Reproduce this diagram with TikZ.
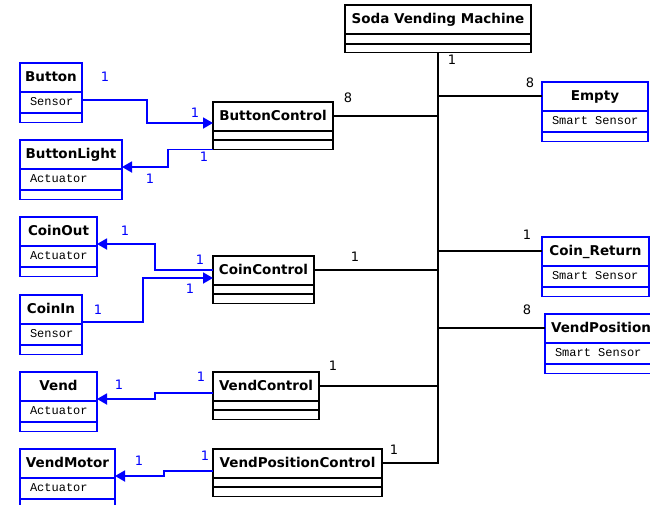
\documentclass[tikz,border=0pt]{standalone}
\usepackage{fontspec}
\setsansfont{DejaVu Sans}
\setmonofont{Liberation Mono}
\usepackage{tikz}
\usetikzlibrary{shapes.multipart, arrows.meta, positioning, calc}
\definecolor{devblue}{RGB}{0, 0, 255}
\newcommand{\cname}[1]{\rule[-9pt]{0pt}{27pt}#1}
\newcommand{\cattr}[1]{\rule[-6pt]{0pt}{19pt}\hspace*{8pt}{\mdseries\ttfamily\fontsize{12}{14}\selectfont #1}}
\newcommand{\cgap}[1]{\rule{0pt}{#1pt}}

\begin{document}
\begin{tikzpicture}[x=1pt, y=-1pt,
        ctrlbox/.style={rectangle split, rectangle split parts=3, draw, line width=1.8pt,
            inner xsep=2pt, inner ysep=0pt, outer sep=0pt, anchor=north west,
            rectangle split part align={center,left,left},
            font=\sffamily\bfseries\fontsize{13.5}{15}\selectfont},
        devbox/.style={ctrlbox, draw=devblue},
        mult/.style={font=\sffamily\fontsize{13}{15}\selectfont, inner sep=0pt},
        bmult/.style={mult, text=devblue},
        link/.style={draw=black, line width=1.8pt},
        signal/.style={draw=devblue, line width=1.8pt, -{Triangle[length=10pt,width=11pt]}}]

    \useasboundingbox (0,0) rectangle (650,504);
    \clip (0,0) rectangle (650,504);

    % Clases de control
    \node [ctrlbox, minimum width=186pt] (machine) at (345,5) {\cname{Soda Vending Machine}\nodepart{two}\cgap{8}\nodepart{three}\cgap{7}};
    \node [ctrlbox, minimum width=120pt] (btnctrl) at (213,102) {\cname{ButtonControl}\nodepart{two}\cgap{7}\nodepart{three}\cgap{8}};
    \node [ctrlbox, minimum width=101pt] (coinctrl) at (213,256) {\cname{CoinControl}\nodepart{two}\cgap{7}\nodepart{three}\cgap{8}};
    \node [ctrlbox, minimum width=106pt] (vendctrl) at (213,372) {\cname{VendControl}\nodepart{two}\cgap{7}\nodepart{three}\cgap{8}};
    \node [ctrlbox, minimum width=169pt] (vposctrl) at (213,449) {\cname{VendPositionControl}\nodepart{two}\cgap{7}\nodepart{three}\cgap{8}};

    % Sensores y actuadores
    \node [devbox, minimum width=62pt] (button) at (20,63) {\cname{Button}\nodepart{two}\cattr{Sensor}\nodepart{three}\cgap{8}};
    \node [devbox, minimum width=102pt] (btnlight) at (20,140) {\cname{ButtonLight}\nodepart{two}\cattr{Actuator}\nodepart{three}\cgap{8}};
    \node [devbox, minimum width=77pt] (coinout) at (20,217) {\cname{CoinOut}\nodepart{two}\cattr{Actuator}\nodepart{three}\cgap{8}};
    \node [devbox, minimum width=62pt] (coinin) at (20,295) {\cname{CoinIn}\nodepart{two}\cattr{Sensor}\nodepart{three}\cgap{8}};
    \node [devbox, minimum width=77pt] (vend) at (20,372) {\cname{Vend}\nodepart{two}\cattr{Actuator}\nodepart{three}\cgap{8}};
    \node [devbox, minimum width=95pt] (vendmotor) at (20,449) {\cname{VendMotor}\nodepart{two}\cattr{Actuator}\nodepart{three}\cgap{8}};
    \node [devbox, minimum width=106pt] (empty) at (542,82) {\cname{Empty}\nodepart{two}\cattr{Smart Sensor}\nodepart{three}\cgap{8}};
    \node [devbox, minimum width=107pt] (coinret) at (542,237) {\cname{Coin\_Return}\nodepart{two}\cattr{Smart Sensor}\nodepart{three}\cgap{8}};
    \node [devbox, minimum width=112pt] (vendpos) at (545,314) {\cname{VendPosition}\nodepart{two}\cattr{Smart Sensor}\nodepart{three}\cgap{8}};

    % Agregacion hacia la maquina
    \path [link] ([yshift=-14pt]btnctrl.north east) -| (machine.south);
    \path [link] ([yshift=-14pt]coinctrl.north east) -| (machine.south);
    \path [link] ([yshift=-14pt]vendctrl.north east) -| (machine.south);
    \path [link] ([yshift=-14pt]vposctrl.north east) -| (machine.south);
    \path [link] ([yshift=-14pt]empty.north west) -| (machine.south);
    \path [link] ([yshift=-14pt]coinret.north west) -| (machine.south);
    \path [link] ([yshift=-14pt]vendpos.north west) -| (machine.south);

    % Senales
    \path [signal] ([yshift=-37pt]button.north east) -- ++(65,0) |- ([yshift=-21pt]btnctrl.north west);
    \path [signal] (btnctrl.south west) -- ++(-45,0) |- ([yshift=-27pt]btnlight.north east);
    \path [signal] ([yshift=-14pt]coinctrl.north west) -- ++(-58,0) |- ([yshift=-27pt]coinout.north east);
    \path [signal] ([yshift=-27pt]coinin.north east) -- ++(61,0) |- ([yshift=-22pt]coinctrl.north west);
    \path [signal] ([yshift=-21pt]vendctrl.north west) -- ++(-58,0) |- ([yshift=-27pt]vend.north east);
    \path [signal] ([yshift=-22pt]vposctrl.north west) -- ++(-49,0) |- ([yshift=-27pt]vendmotor.north east);

    % Multiplicidades
    \node [mult] (m-machine) at (452,60) {1};
    \node [mult] (m-empty) at (530,83) {8};
    \node [mult] (m-btnctrl) at (348,98) {8};
    \node [mult] (m-coinret) at (527,235) {1};
    \node [mult] (m-vendpos) at (527,310) {8};
    \node [mult] (m-coinctrl) at (355,257) {1};
    \node [mult] (m-vendctrl) at (333,366) {1};
    \node [mult] (m-vposctrl) at (394,450) {1};
    \node [bmult] (b-button) at (105,77) {1};
    \node [bmult] (b-btnctrl-in) at (195,113) {1};
    \node [bmult] (b-btnctrl-out) at (204,157) {1};
    \node [bmult] (b-btnlight) at (150,179) {1};
    \node [bmult] (b-coinout) at (125,231) {1};
    \node [bmult] (b-coinctrl-out) at (200,260) {1};
    \node [bmult] (b-coinin) at (98,310) {1};
    \node [bmult] (b-coinctrl-in) at (190,289) {1};
    \node [bmult] (b-vendctrl) at (201,377) {1};
    \node [bmult] (b-vend) at (119,385) {1};
    \node [bmult] (b-vposctrl) at (205,456) {1};
    \node [bmult] (b-vendmotor) at (139,461) {1};
\end{tikzpicture}
\end{document}
